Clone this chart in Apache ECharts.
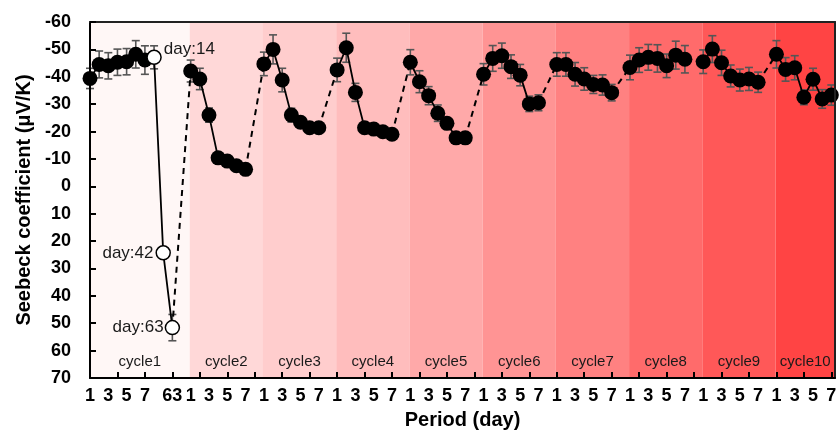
<!DOCTYPE html>
<html>
<head>
<meta charset="utf-8">
<script src="https://cdn.jsdelivr.net/npm/echarts@6/dist/echarts.min.js"></script>
<style>
  html, body { margin: 0; padding: 0; background: #ffffff; }
  #chart { width: 839px; height: 430px; }
</style>
</head>
<body>
<div id="chart"></div>
<script>
// Seebeck coefficient (μV/K) measured over ten cycles of storage
const cycleNames = ['cycle1', 'cycle2', 'cycle3', 'cycle4', 'cycle5',
                    'cycle6', 'cycle7', 'cycle8', 'cycle9', 'cycle10'];

// measurement days in each cycle (cycle1 continues to days 14, 42 and 63)
const cycle1Days = ['1', '2', '3', '4', '5', '6', '7', '14', '42', '63'];
const cycleDays = ['1', '2', '3', '4', '5', '6', '7'];

// day labels printed under the axis
const cycle1TickDays = ['1', '3', '5', '7', '63'];
const cycleTickDays = ['1', '3', '5', '7'];

// mean values
const cycle1 = [-39.4, -44.5, -44.0, -45.3, -45.5, -48.2, -46.1, -47.1, 24.3, 51.6];
const cycle2 = [-42.1, -39.2, -26.0, -10.4, -9.2, -7.5, -6.2];
const cycle3 = [-44.7, -50.0, -38.8, -26.0, -23.4, -21.4, -21.4];
const cycle4 = [-42.5, -50.6, -34.3, -21.4, -20.9, -19.9, -19.0];
const cycle5 = [-45.3, -38.2, -33.1, -26.7, -23.0, -17.7, -17.7];
const cycle6 = [-40.9, -46.7, -47.7, -43.7, -40.6, -30.1, -30.5];
const cycle7 = [-44.5, -44.5, -40.9, -39.2, -37.2, -37.0, -34.2];
const cycle8 = [-43.4, -46.1, -47.1, -46.7, -44.0, -47.9, -46.4];
const cycle9 = [-45.5, -50.1, -45.1, -40.3, -38.8, -39.2, -38.0];
const cycle10 = [-48.2, -42.7, -43.3, -32.5, -39.1, -31.9, -33.3];

// standard deviations
const err1 = [3.7, 4.9, 4.8, 4.8, 4.8, 5.0, 5.2, 4.2, 0, 4.8];
const err2 = [4.0, 3.9, 2.6, 1.5, 1.5, 1.5, 1.5];
const err3 = [4.3, 5.3, 4.3, 2.5, 1.5, 1.5, 1.5];
const err4 = [4.3, 5.3, 3.3, 1.5, 1.5, 1.5, 1.5];
const err5 = [4.6, 4.0, 3.3, 3.0, 2.0, 1.5, 1.5];
const err6 = [3.9, 4.7, 4.6, 4.3, 3.9, 2.8, 2.9];
const err7 = [4.3, 4.3, 4.3, 4.1, 3.3, 3.7, 3.0];
const err8 = [4.5, 4.5, 4.7, 5.0, 4.3, 5.1, 5.0];
const err9 = [4.3, 4.9, 4.6, 4.0, 4.0, 4.2, 3.7];
const err10 = [5.0, 4.3, 4.4, 2.7, 4.0, 3.4, 3.7];

// long-storage points of cycle1 drawn hollow and annotated
const hollowDays = ['14', '42', '63'];
const hollowNotes = ['day:14', 'day:42', 'day:63'];

const values = [cycle1, cycle2, cycle3, cycle4, cycle5, cycle6, cycle7, cycle8, cycle9, cycle10];
const errors = [err1, err2, err3, err4, err5, err6, err7, err8, err9, err10];

// shading of each cycle band, light to deep red
const bandColors = ['#fff7f6', '#ffd8d8', '#ffcdcd', '#ffbdbd', '#ffa9a9',
                    '#ff9494', '#ff8181', '#ff6b6b', '#ff5858', '#ff4444'];

const FONT = '"Liberation Sans", Arial, Helvetica, sans-serif';

// slot of a measurement on the period axis: cycles follow each other with one empty slot between
function slot(c, d) {
  return c === 0 ? d : cycle1Days.length + 1 + (c - 1) * (cycleDays.length + 1) + d;
}
function daysOf(c) { return c === 0 ? cycle1Days : cycleDays; }

// label per slot
const tickText = {};
cycleNames.forEach((_, c) => {
  const days = daysOf(c);
  (c === 0 ? cycle1TickDays : cycleTickDays).forEach(t => {
    tickText[slot(c, days.indexOf(t))] = t;
  });
});
const labelSlots = Object.keys(tickText).map(Number).sort((a, b) => a - b);

const lastSlot = slot(cycleNames.length - 1, cycleDays.length - 1);
const X_MIN = 0;
const X_MAX = lastSlot + 0.4;

// tick marks every third slot
const tickSlots = [];
for (let s = 3; s <= lastSlot; s += 3) tickSlots.push(s);

// background bands and their captions
const bands = cycleNames.map((name, c) => {
  const start = c === 0 ? X_MIN : slot(c, 0) - 0.1;
  const end = c === cycleNames.length - 1 ? X_MAX : slot(c + 1, 0) - 0.1;
  return [{ name: name, xAxis: start, itemStyle: { color: bandColors[c] } }, { xAxis: end }];
});

// points
const filled = [], hollow = [], bars = [];
values.forEach((vals, c) => {
  const days = daysOf(c);
  vals.forEach((v, i) => {
    const x = slot(c, i);
    const h = c === 0 ? hollowDays.indexOf(days[i]) : -1;
    if (h >= 0) {
      hollow.push({ value: [x, v], note: hollowNotes[h], day: days[i] });
    } else {
      filled.push([x, v]);
    }
    if (errors[c][i] > 0) bars.push([x, v, errors[c][i]]);
  });
});

const series = [];

// bands
series.push({
  type: 'line',
  data: [],
  silent: true,
  z: 1,
  markArea: {
    silent: true,
    label: {
      show: true,
      position: 'insideBottom',
      distance: 9,
      color: '#1a1a1a',
      fontSize: 15,
      fontFamily: FONT,
      formatter: '{b}'
    },
    data: bands
  }
});

// error bars
series.push({
  type: 'custom',
  z: 3,
  silent: true,
  clip: false,
  data: bars,
  renderItem: function (params, api) {
    const x = api.value(0), y = api.value(1), e = api.value(2);
    const a = api.coord([x, y - e]);
    const b = api.coord([x, y + e]);
    const hw = 4;
    const st = { stroke: '#555555', lineWidth: 1.6 };
    return {
      type: 'group',
      children: [
        { type: 'line', shape: { x1: a[0], y1: a[1], x2: b[0], y2: b[1] }, style: st },
        { type: 'line', shape: { x1: a[0] - hw, y1: a[1], x2: a[0] + hw, y2: a[1] }, style: st },
        { type: 'line', shape: { x1: b[0] - hw, y1: b[1], x2: b[0] + hw, y2: b[1] }, style: st }
      ]
    };
  }
});

// solid line inside each cycle
values.forEach((vals, c) => {
  series.push({
    type: 'line',
    z: 4,
    silent: true,
    symbol: 'none',
    data: vals.map((v, i) => [slot(c, i), v]),
    lineStyle: { color: '#000', width: 1.8 }
  });
});

// dashed link from the end of one cycle to the start of the next
for (let c = 0; c < values.length - 1; c++) {
  const a = values[c], b = values[c + 1];
  series.push({
    type: 'line',
    z: 4,
    silent: true,
    symbol: 'none',
    data: [[slot(c, a.length - 1), a[a.length - 1]], [slot(c + 1, 0), b[0]]],
    lineStyle: { color: '#000', width: 2, type: [6, 5] }
  });
}

// filled markers
series.push({
  type: 'scatter',
  z: 5,
  symbol: 'circle',
  symbolSize: 15,
  data: filled,
  itemStyle: { color: '#000', opacity: 1 }
});

// hollow markers with notes
const notePlacement = {
  '14': { position: 'right', distance: 2, offset: [0, -8] },
  '42': { position: 'left', distance: 2, offset: [0, 0] },
  '63': { position: 'left', distance: 1, offset: [0, 0] }
};
series.push({
  type: 'scatter',
  z: 6,
  symbol: 'circle',
  symbolSize: 14,
  data: hollow.map(p => ({
    value: p.value,
    label: Object.assign({
      show: true,
      formatter: p.note,
      color: '#1a1a1a',
      fontSize: 17,
      fontFamily: FONT
    }, notePlacement[p.day])
  })),
  itemStyle: { color: '#fff', borderColor: '#000', borderWidth: 1.5, opacity: 1 }
});

const chart = echarts.init(document.getElementById('chart'), null, { renderer: 'canvas' });
chart.setOption({
  backgroundColor: '#ffffff',
  animation: false,
  grid: { left: 90, right: 4, top: 22, bottom: 52, containLabel: false, outerBoundsMode: 'none' },
  xAxis: [
    {
      type: 'value',
      z: 10,
      min: X_MIN,
      max: X_MAX,
      position: 'bottom',
      name: 'Period (day)',
      nameLocation: 'middle',
      nameGap: 32,
      nameTextStyle: { fontSize: 20, fontWeight: 'bold', color: '#000', fontFamily: FONT },
      axisLine: { show: true, onZero: false, lineStyle: { color: '#000', width: 2 } },
      axisTick: {
        show: true,
        inside: true,
        length: 6,
        customValues: tickSlots,
        lineStyle: { color: '#000', width: 2 }
      },
      splitLine: { show: false },
      axisLabel: {
        show: true,
        margin: 9,
        fontSize: 18,
        fontWeight: 'bold',
        color: '#000',
        fontFamily: FONT,
        customValues: labelSlots,
        formatter: function (v) {
          const r = Math.round(v);
          return tickText[r] !== undefined ? tickText[r] : '';
        }
      }
    },
    {
      type: 'value',
      z: 10,
      min: X_MIN,
      max: X_MAX,
      position: 'top',
      axisLine: { show: true, onZero: false, lineStyle: { color: '#222', width: 2 } },
      axisTick: { show: false },
      axisLabel: { show: false },
      splitLine: { show: false }
    }
  ],
  yAxis: [
    {
      type: 'value',
      z: 10,
      inverse: true,
      min: -60,
      max: 70,
      interval: 10,
      name: 'Seebeck coefficient (μV/K)',
      nameLocation: 'middle',
      nameGap: 55,
      nameTextStyle: { fontSize: 20, fontWeight: 'bold', color: '#000', fontFamily: FONT },
      axisLine: { show: true, onZero: false, lineStyle: { color: '#000', width: 2 } },
      axisTick: { show: true, inside: true, length: 6, lineStyle: { color: '#000', width: 2 } },
      axisLabel: { margin: 19, fontSize: 18, fontWeight: 'bold', color: '#000', fontFamily: FONT },
      splitLine: { show: false }
    },
    {
      type: 'value',
      z: 10,
      inverse: true,
      min: -60,
      max: 70,
      position: 'right',
      axisLine: { show: true, onZero: false, lineStyle: { color: '#222', width: 2 } },
      axisTick: { show: false },
      axisLabel: { show: false },
      splitLine: { show: false }
    }
  ],
  series: series
});
</script>
</body>
</html>
